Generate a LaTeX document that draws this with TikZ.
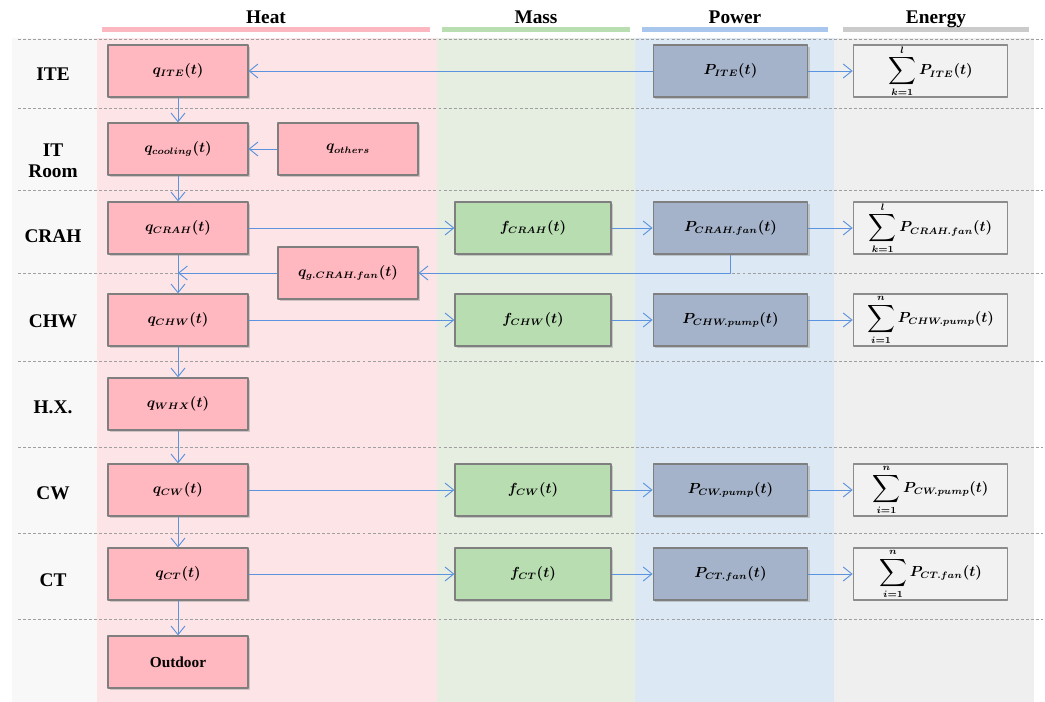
\documentclass[tikz,border=0pt]{standalone}
\usepackage{fontspec}
\setmainfont{Liberation Serif}
\usepackage{graphicx}
\usetikzlibrary{arrows.meta,shadows}
\definecolor{leftbg}{HTML}{F8F8F8}
\definecolor{heatbg}{HTML}{FDE4E6}
\definecolor{massbg}{HTML}{E6EEE1}
\definecolor{powbg}{HTML}{DCE9F4}
\definecolor{enbg}{HTML}{EFEFEF}
\definecolor{heatbar}{HTML}{FBB8C0}
\definecolor{massbar}{HTML}{B8DEB2}
\definecolor{powbar}{HTML}{A9C6EC}
\definecolor{enbar}{HTML}{CBCBCB}
\definecolor{heatfill}{HTML}{FFB7C0}
\definecolor{massfill}{HTML}{B7DDB1}
\definecolor{powfill}{HTML}{A4B3CA}
\definecolor{enfill}{HTML}{F2F2F2}
\definecolor{boxline}{HTML}{7F7F7F}
\definecolor{flowblue}{HTML}{5B93DE}
% larger summation sign with limits
\newcommand\esum[3]{\mathop{\vcenter{\hbox{\scalebox{1.45}{$\displaystyle\sum$}}}}\limits_{#1}^{#2}#3}
\begin{document}
\begin{tikzpicture}[x=0.75pt,y=-0.75pt,line join=round,
    >={Straight Barb[length=6.5pt,width=10.5pt]},
    box/.style={draw=boxline,line width=0.9pt,minimum height=39pt,inner sep=2pt,
      font=\fontsize{10.5}{12}\selectfont\boldmath,
      drop shadow={opacity=0.35,shadow xshift=1.5pt,shadow yshift=-1.5pt}},
    heatbox/.style={box,fill=heatfill,minimum width=105pt},
    massbox/.style={box,fill=massfill,minimum width=117pt},
    powbox/.style={box,fill=powfill,minimum width=116pt},
    enbox/.style={draw=boxline!90,line width=0.8pt,fill=enfill,minimum width=116pt,
      minimum height=39pt,inner sep=0pt,font=\fontsize{10.5}{12}\selectfont\boldmath},
    flow/.style={->,draw=flowblue,line width=0.7pt},
    lab/.style={font=\fontsize{14.5}{16}\selectfont\bfseries,align=center}]
\useasboundingbox (0,0) rectangle (1045,702);
% column bands
\fill[leftbg] (12,38) rectangle (97,702);
\fill[heatbg] (97,38) rectangle (437,702);
\fill[massbg] (437,38) rectangle (635,702);
\fill[powbg] (635,38) rectangle (834,702);
\fill[enbg] (834,38) rectangle (1034,702);
% headers
\foreach \a/\b/\c/\t in {102/430/heatbar/Heat,442/630/massbar/Mass,642/828/powbar/Power,843/1029/enbar/Energy}{
  \draw[\c,line width=3.75pt] (\a,30) -- (\b,30);
  \node[lab,anchor=base] (h\t) at ({(\a+\b)/2},24) {\t};}
% row separators
\foreach \y in {39,108,190,273,361,447,533,619}
  \draw[gray!75,line width=0.6pt,dash pattern=on 2.2pt off 1.6pt] (18,\y) -- (1043,\y);
% row labels
\foreach \n/\y/\t in {lite/74/ITE,lroom/161/IT\\Room,lcrah/236/CRAH,lchw/321/CHW,lhx/407/H.X.,lcw/493/CW,lct/580/CT}
  \node[lab] (\n) at (53,\y) {\t};
% heat
\node[heatbox] (qite) at (178,71) {$q_{ITE}(t)$};
\node[heatbox] (qcool) at (178,149) {$q_{cooling}(t)$};
\node[heatbox] (qoth) at (348,149) {$q_{others}$};
\node[heatbox] (qcrah) at (178,228) {$q_{CRAH}(t)$};
\node[heatbox] (qg) at (348,273) {$q_{g.CRAH.fan}(t)$};
\node[heatbox] (qchw) at (178,320) {$q_{CHW}(t)$};
\node[heatbox] (qwhx) at (178,404) {$q_{WHX}(t)$};
\node[heatbox] (qcw) at (178,490) {$q_{CW}(t)$};
\node[heatbox] (qct) at (178,574) {$q_{CT}(t)$};
\node[heatbox,font=\fontsize{11.5}{13}\selectfont\bfseries] (qout) at (178,662) {Outdoor};
% mass
\node[massbox] (fcrah) at (533,228) {$f_{CRAH}(t)$};
\node[massbox] (fchw) at (533,320) {$f_{CHW}(t)$};
\node[massbox] (fcw) at (533,490) {$f_{CW}(t)$};
\node[massbox] (fct) at (533,574) {$f_{CT}(t)$};
% power
\node[powbox] (pite) at (730.5,71) {$P_{ITE}(t)$};
\node[powbox] (pcrah) at (730.5,228) {$P_{CRAH.fan}(t)$};
\node[powbox] (pchw) at (730.5,320) {$P_{CHW.pump}(t)$};
\node[powbox] (pcw) at (730.5,490) {$P_{CW.pump}(t)$};
\node[powbox] (pct) at (730.5,574) {$P_{CT.fan}(t)$};
% energy
\node[enbox] (eite) at (930.5,71) {$\esum{k=1}{l}{P_{ITE}(t)}$};
\node[enbox] (ecrah) at (930.5,228) {$\esum{k=1}{l}{P_{CRAH.fan}(t)}$};
\node[enbox] (echw) at (930.5,320) {$\esum{i=1}{n}{P_{CHW.pump}(t)}$};
\node[enbox] (ecw) at (930.5,490) {$\esum{i=1}{n}{P_{CW.pump}(t)}$};
\node[enbox] (ect) at (930.5,574) {$\esum{i=1}{n}{P_{CT.fan}(t)}$};
% flows
\foreach \a/\b in {qite/qcool,qcool/qcrah,qcrah/qchw,qchw/qwhx,qwhx/qcw,qcw/qct,qct/qout,
    qoth/qcool,pite/qite,pite/eite,qcrah/fcrah,fcrah/pcrah,pcrah/ecrah,
    qchw/fchw,fchw/pchw,pchw/echw,qcw/fcw,fcw/pcw,pcw/ecw,qct/fct,fct/pct,pct/ect}
  \draw[flow] (\a) -- (\b);
\draw[flow] (pcrah.south) |- (qg.east);
\draw[flow] (qg.west) -- (qcrah.south |- qg.west);
\end{tikzpicture}
\end{document}
